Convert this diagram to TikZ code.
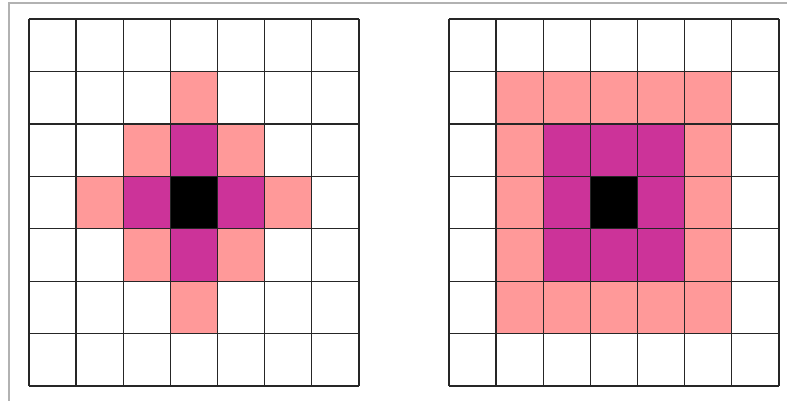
\documentclass[tikz,border=0pt]{standalone}
\definecolor{ringout}{HTML}{FF9999}
\definecolor{ringin}{HTML}{CC3399}
\def\cw{47.14}
\def\ch{52.43}
\begin{document}
\begin{tikzpicture}[x=1pt, y=-1pt,
  outer/.style={fill=ringout},
  inner/.style={fill=ringin},
  centre/.style={fill=black},
  cellline/.style={draw=black!85, line width=1.3pt}]
\useasboundingbox (0,0) rectangle (787,400);
% frame
\draw[gray!60, line width=1.4pt] (9,410) -- (9,3) -- (800,3);
% left grid: diamond neighbourhood
\begin{scope}[shift={(29,19)}]
  \foreach \c/\r in {3/1, 2/2, 4/2, 1/3, 5/3, 2/4, 4/4, 3/5}
    \fill[outer] (\c*\cw, \r*\ch) rectangle +(\cw, \ch);
  \foreach \c/\r in {3/2, 2/3, 4/3, 3/4}
    \fill[inner] (\c*\cw, \r*\ch) rectangle +(\cw, \ch);
  \fill[centre] (3*\cw, 3*\ch) rectangle +(\cw, \ch);
  \foreach \i in {0,...,7} {
    \draw[cellline] (\i*\cw, 0) -- (\i*\cw, 7*\ch);
    \draw[cellline] (0, \i*\ch) -- (7*\cw, \i*\ch);
  }
\end{scope}
% right grid: square neighbourhood
\begin{scope}[shift={(449,19)}]
  \fill[outer] (\cw, \ch) rectangle (6*\cw, 6*\ch);
  \fill[inner] (2*\cw, 2*\ch) rectangle (5*\cw, 5*\ch);
  \fill[centre] (3*\cw, 3*\ch) rectangle +(\cw, \ch);
  \foreach \i in {0,...,7} {
    \draw[cellline] (\i*\cw, 0) -- (\i*\cw, 7*\ch);
    \draw[cellline] (0, \i*\ch) -- (7*\cw, \i*\ch);
  }
\end{scope}
\end{tikzpicture}
\end{document}
